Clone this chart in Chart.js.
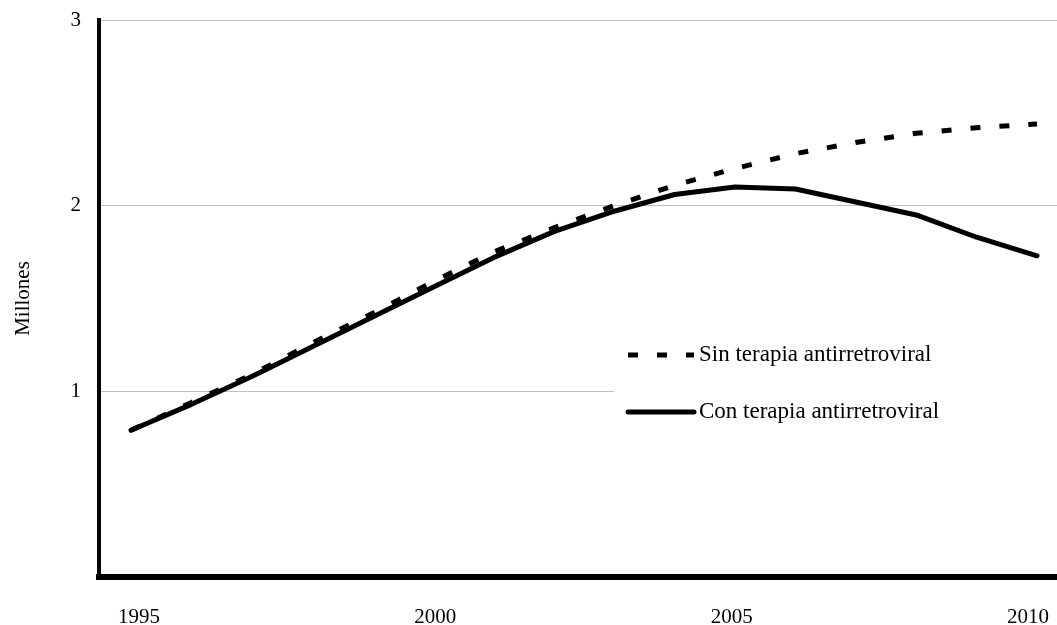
<!DOCTYPE html>
<html>
<head>
<meta charset="utf-8">
<script src="https://cdn.jsdelivr.net/npm/chart.js@4.4.1/dist/chart.umd.min.js"></script>
<style>
html,body{margin:0;padding:0;background:#fff;}
#wrap{width:1057px;height:625px;}
</style>
</head>
<body>
<div id="wrap"><canvas id="c" width="1057" height="625"></canvas></div>
<script>
const years = [1995,1996,1997,1998,1999,2000,2001,2002,2003,2004,2005,2006,2007,2008,2009,2010];
const sinTerapia = [0.79,0.94,1.09,1.26,1.42,1.59,1.75,1.88,2.00,2.11,2.20,2.28,2.34,2.39,2.42,2.44];
const conTerapia = [0.79,0.93,1.08,1.24,1.40,1.56,1.72,1.86,1.97,2.06,2.10,2.09,2.02,1.95,1.83,1.73];
const xTickValues = [1995,2000,2005,2010];
const yTickValues = [1,2,3];
const seriesLabels = ['Sin terapia antirretroviral','Con terapia antirretroviral'];
const yTitle = 'Millones';

const FONT = '"Liberation Serif", "Times New Roman", serif';

const legendPlugin = {
  id: 'insideLegend',
  afterDatasetsDraw(chart) {
    const ctx = chart.ctx;
    const area = chart.chartArea;
    ctx.save();
    ctx.fillStyle = '#ffffff';
    ctx.fillRect(614, 322, area.right - 614, 120);
    const items = [
      {y: 355, ds: chart.data.datasets[0]},
      {y: 412, ds: chart.data.datasets[1]}
    ];
    items.forEach(it => {
      ctx.beginPath();
      ctx.strokeStyle = '#000';
      ctx.lineWidth = it.ds.borderWidth;
      ctx.setLineDash(it.ds.borderDash || []);
      ctx.lineCap = it.ds.borderCapStyle || 'butt';
      ctx.moveTo(628, it.y);
      ctx.lineTo(694, it.y);
      ctx.stroke();
      ctx.setLineDash([]);
      ctx.fillStyle = '#000';
      ctx.font = '23px ' + FONT;
      ctx.textBaseline = 'middle';
      ctx.textAlign = 'left';
      ctx.fillText(it.ds.label, 699, it.y);
    });
    ctx.restore();
  }
};

new Chart(document.getElementById('c'), {
  type: 'line',
  data: {
    datasets: [
      {
        label: seriesLabels[0],
        data: years.map((y,i)=>({x:y, y:sinTerapia[i]})),
        borderColor: '#000',
        borderWidth: 5,
        borderDash: [10,19],
        borderCapStyle: 'butt',
        pointRadius: 0,
        tension: 0,
        fill: false
      },
      {
        label: seriesLabels[1],
        data: years.map((y,i)=>({x:y, y:conTerapia[i]})),
        borderColor: '#000',
        borderWidth: 5,
        borderCapStyle: 'round',
        borderJoinStyle: 'round',
        pointRadius: 0,
        tension: 0,
        fill: false
      }
    ]
  },
  options: {
    responsive: false,
    animation: false,
    devicePixelRatio: 1,
    layout: {padding: {top: 20, right: 0, left: 0, bottom: 0}},
    plugins: {legend: {display: false}, tooltip: {enabled: false}},
    scales: {
      x: {
        type: 'linear',
        position: 'bottom',
        min: 1994.470,
        max: 2010.331,
        afterBuildTicks(scale){ scale.ticks = []; },
        afterFit(scale){ scale.height = 0; scale.paddingLeft = 0; scale.paddingRight = 0; },
        grid: {display: false, drawTicks: false},
        border: {display: true, color: '#000', width: 6},
        ticks: {display: false}
      },
      xLabels: {
        type: 'linear',
        position: 'bottom',
        min: 1994.325,
        max: 2010.489,
        afterBuildTicks(scale){ scale.ticks = xTickValues.map(v=>({value:v})); },
        afterFit(scale){ scale.height = 48; scale.paddingLeft = 0; scale.paddingRight = 0; },
        grid: {display: false, drawTicks: false},
        border: {display: false},
        ticks: {
          color: '#000',
          font: {family: FONT, size: 21},
          padding: 28,
          maxRotation: 0,
          autoSkip: false,
          callback: v => String(v)
        }
      },
      y: {
        type: 'linear',
        min: 0,
        max: 3,
        afterBuildTicks(scale){ scale.ticks = yTickValues.map(v=>({value:v})); },
        afterFit(scale){ scale.width = 99; scale.paddingTop = 0; scale.paddingBottom = 0; },
        grid: {color: '#c0c0c0', lineWidth: 1, drawTicks: false},
        border: {display: true, color: '#000', width: 4},
        ticks: {
          color: '#000',
          font: {family: FONT, size: 21},
          padding: 18
        },
        title: {
          display: true,
          text: yTitle,
          color: '#000',
          font: {family: FONT, size: 21},
          padding: {top: 11, bottom: 4}
        }
      }
    }
  },
  plugins: [legendPlugin]
});
</script>
</body>
</html>
